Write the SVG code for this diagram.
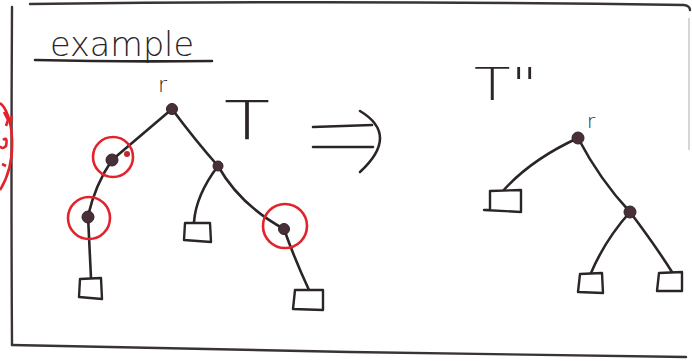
<svg xmlns="http://www.w3.org/2000/svg" width="692" height="361" viewBox="0 0 692 361">
<style>
.ink{fill:none;stroke:#2b2528;stroke-width:2.6;stroke-linecap:round;stroke-linejoin:round}
.frame{fill:none;stroke:#3a3336;stroke-width:2.4;stroke-linecap:round}
.red{fill:none;stroke:#e3232c;stroke-width:2.6}
.dot{fill:#4a2e3a;stroke:#2b2528;stroke-width:1}
.leaf{fill:#fff;stroke:#2b2528;stroke-width:2.4;stroke-linejoin:round}
.hand{font-family:"DejaVu Sans","Liberation Sans",sans-serif;fill:#2b2528}
</style>
<rect width="692" height="361" fill="#fff"/>
<g id="frame">
<path class="frame" d="M30,4 Q360,0 684,5 Q690,6 690,10"/>
<path class="frame" d="M12,7 Q11,180 12,345"/>
<path class="frame" d="M12,345 L350,352 L686,357"/>
<path d="M689,18 L689,150" stroke="#bbb" stroke-width="1.2" fill="none"/>
<path class="red" d="M0,103 C13,112 19,160 0,190"/>
<path class="red" stroke-width="2" d="M4,112 L8,120 L6,126 M12,116 L10,124 M3,140 Q8,136 6,146 Q2,150 0,146 M2,164 L6,166"/>
</g>
<g id="title">
<text class="hand" x="50" y="56" font-size="34" textLength="144" lengthAdjust="spacingAndGlyphs" font-weight="300">example</text>
<path class="ink" stroke-width="2.2" d="M35,60 Q120,62 212,61"/>
</g>
<g id="labels">
<text class="hand" x="158" y="92" font-size="22" font-weight="300">r</text>
<text class="hand" x="224" y="139" font-size="53" textLength="46" lengthAdjust="spacingAndGlyphs" font-weight="200">T</text>
<text class="hand" x="474" y="100" font-size="45" textLength="64" lengthAdjust="spacingAndGlyphs" font-weight="200">T"</text>
<text class="hand" x="587" y="128" font-size="20" font-weight="300">r</text>
</g>
<g id="arrow">
<path class="ink" d="M313,127 L372,125 M313,147 L373,147 M360,111 Q400,135 360,172"/>
</g>
<g id="connectors">
<path class="ink" d="M172,109 L112,160"/>
<path class="ink" d="M172,109 Q195,140 218,166"/>
<path class="ink" d="M112,160 Q95,185 88,216"/>
<path class="ink" d="M88,216 L91,278"/>
<path class="ink" d="M218,166 Q196,195 194,222"/>
<path class="ink" d="M218,166 Q240,205 284,229"/>
<path class="ink" d="M284,229 Q295,260 309,290"/>
<path class="ink" d="M578,138 Q530,160 502,192"/>
<path class="ink" d="M578,138 Q600,180 630,212"/>
<path class="ink" d="M630,212 Q605,240 591,273"/>
<path class="ink" d="M630,212 Q655,245 672,272"/>
</g>
<g id="left-root"><circle class="dot" cx="172" cy="109" r="5.5"/></g>
<g id="left-L"><circle class="dot" cx="112" cy="160" r="6"/><circle fill="#c0282c" cx="127" cy="154" r="3"/><circle class="red" cx="113" cy="157" r="20"/></g>
<g id="left-R"><circle class="dot" cx="218" cy="166" r="5"/></g>
<g id="left-LL"><circle class="dot" cx="88" cy="217" r="6"/><circle class="red" cx="89" cy="218" r="21"/></g>
<g id="left-RR"><circle class="dot" cx="284" cy="229" r="5.5"/><circle class="red" cx="285" cy="226" r="22"/></g>
<g id="left-leaf1"><path class="leaf" d="M80,279 L101,278 L102,299 L79,297 Z"/></g>
<g id="left-leaf2"><path class="leaf" d="M185,223 L210,223 L211,242 L184,240 Z"/></g>
<g id="left-leaf3"><path class="leaf" d="M295,290 L323,290 L323,310 L293,309 Z"/></g>
<g id="right-root"><circle class="dot" cx="578" cy="138" r="6"/></g>
<g id="right-R"><circle class="dot" cx="630" cy="212" r="6"/></g>
<g id="right-leaf1"><path class="leaf" d="M490,191 L521,190 L521,212 L484,210 L490,210 Z"/></g>
<g id="right-leaf2"><path class="leaf" d="M580,274 L602,273 L603,293 L578,292 Z"/></g>
<g id="right-leaf3"><path class="leaf" d="M659,273 L682,272 L682,291 L657,291 Z"/></g>
</svg>
